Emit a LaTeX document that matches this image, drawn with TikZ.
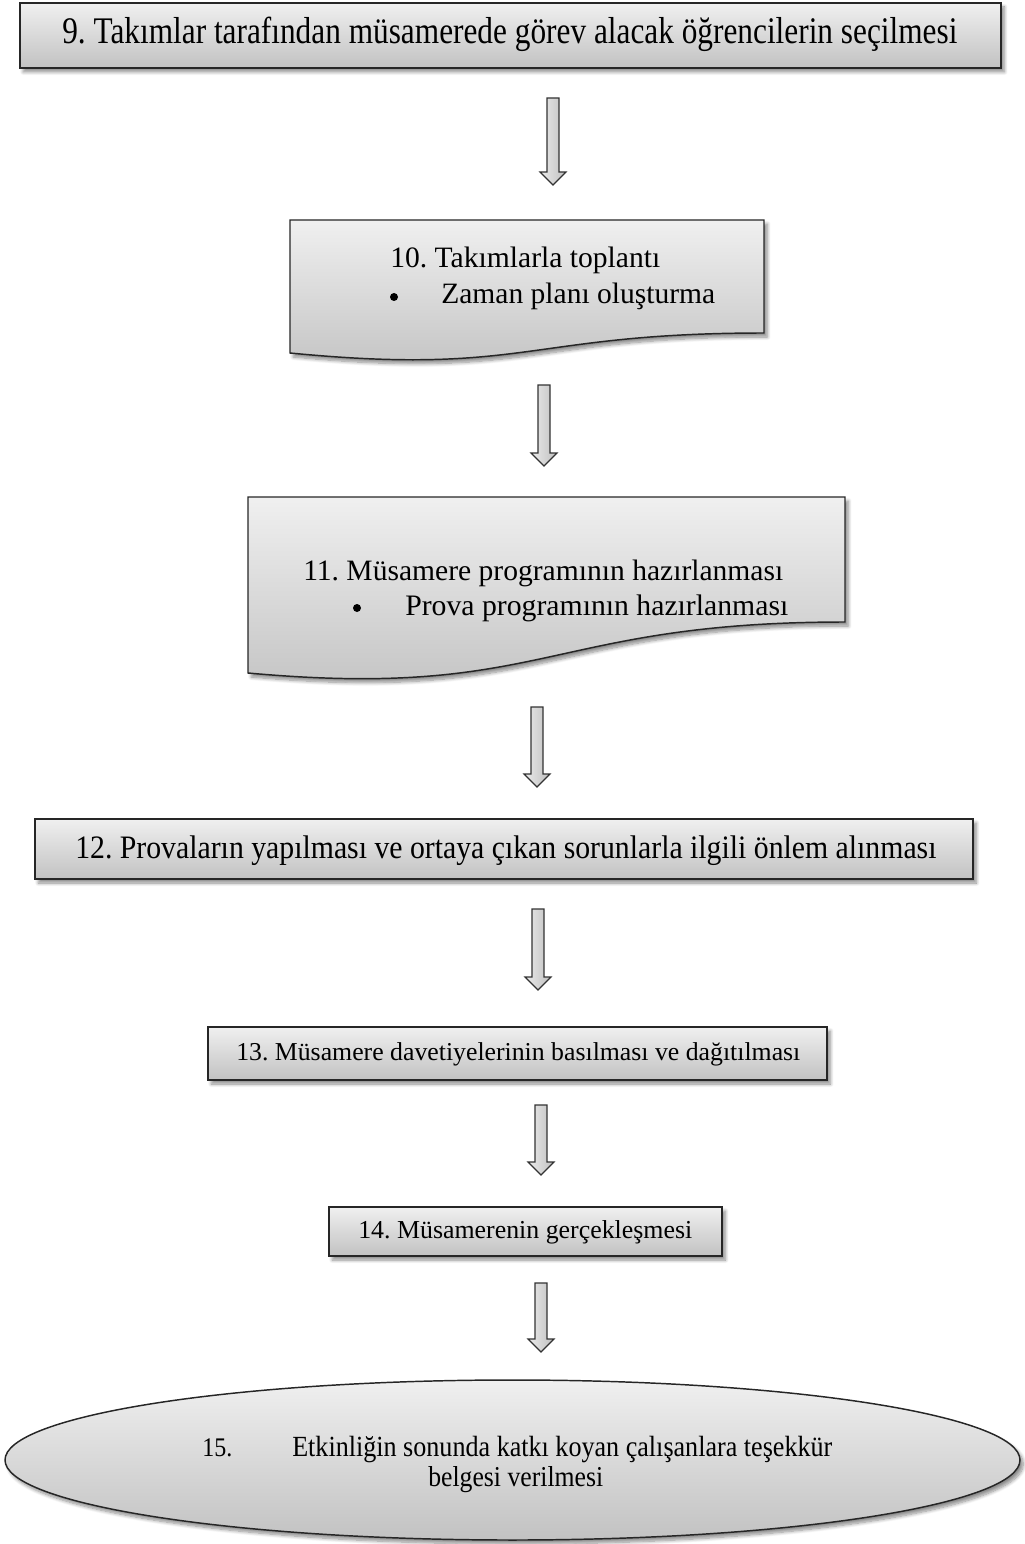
\documentclass[tikz,border=0pt]{standalone}
\usepackage{fontspec}
\setmainfont{Liberation Serif}
\usepackage{graphicx}
\usetikzlibrary{shadows.blur,shapes.geometric}
\frenchspacing
\newlength\pxu
\setlength\pxu{0.75pt}
% set a line of text to a given width (in pixel units), optionally stretched vertically
\newcommand\fitto[3][1]{\scalebox{1}[#1]{\resizebox{#2\pxu}{!}{#3}}}
\tikzset{
  panel/.style={draw=black!85, line width=1.1pt, top color=black!6, bottom color=black!24,
    blur shadow={shadow xshift=2.5pt, shadow yshift=-3pt, shadow blur steps=8,
      shadow blur radius=2.5pt, shadow opacity=45}},
  boxnode/.style={panel, rectangle, inner sep=0pt},
  txt/.style={inner sep=0pt, anchor=base west},
  dot/.style={circle, fill=black, inner sep=0pt, minimum size=8\pxu},
  arrowbody/.style={draw=black!80, line width=0.9pt, left color=black!8, right color=black!25, line join=miter}
}
% hollow block arrow: centre x, top y, tip y
\newcommand\blockarrow[3]{%
  \path[arrowbody] (#1-6,#2) -- (#1+6,#2) -- (#1+6,#3-13) -- (#1+13,#3-13)
    -- (#1,#3) -- (#1-13,#3-13) -- (#1-6,#3-13) -- cycle;}
\begin{document}
\begin{tikzpicture}[x=\pxu, y=-\pxu]
\useasboundingbox (0,0) rectangle (1024,1544);

% step 9
\node[boxnode, minimum width=981\pxu, minimum height=65\pxu] (b9) at (510.5,35.5) {};
\node[txt] (t9) at (62,44) {\fitto[1.2]{895}{9. Takımlar tarafından müsamerede görev alacak öğrencilerin seçilmesi}};
\blockarrow{553}{98}{185}

% step 10 (document shape)
\path[panel] (290,220) coordinate (b10nw) -- (764,220) -- (764,333)
  .. controls (527,333) and (527,376) .. (290,353) -- cycle;
\node[txt] (t10a) at (390,268) {\fitto{270}{10. Takımlarla toplantı}};
\node[dot] (d10) at (394,297) {};
\node[txt] (t10b) at (441,303) {\fitto{274}{Zaman planı oluşturma}};
\blockarrow{544}{385}{466}

% step 11 (document shape)
\path[panel] (248,497) coordinate (b11nw) -- (845,497) -- (845,622)
  .. controls (546,622) and (546,700) .. (248,673) -- cycle;
\node[txt] (t11a) at (303,580) {\fitto{480}{11. Müsamere programının hazırlanması}};
\node[dot] (d11) at (357,608) {};
\node[txt] (t11b) at (405,615) {\fitto{383}{Prova programının hazırlanması}};
\blockarrow{537}{707}{787}

% step 12
\node[boxnode, minimum width=938\pxu, minimum height=60\pxu] (b12) at (504,849) {};
\node[txt] (t12) at (75,858) {\fitto[1.1]{861}{12. Provaların yapılması ve ortaya çıkan sorunlarla ilgili önlem alınması}};
\blockarrow{538}{909}{990}

% step 13
\node[boxnode, minimum width=619\pxu, minimum height=53\pxu] (b13) at (517.5,1053.5) {};
\node[txt] (t13) at (236,1060) {\fitto{564}{13. Müsamere davetiyelerinin basılması ve dağıtılması}};
\blockarrow{541}{1105}{1175}

% step 14
\node[boxnode, minimum width=393\pxu, minimum height=49\pxu] (b14) at (525.5,1231.5) {};
\node[txt] (t14) at (358,1238) {\fitto{334}{14. Müsamerenin gerçekleşmesi}};
\blockarrow{541}{1283}{1352}

% step 15
\node[panel, ellipse, inner sep=0pt, minimum width=1015\pxu, minimum height=160\pxu] (b15) at (512.5,1460) {};
\node[txt] (t15n) at (202,1456) {\fitto[1.12]{30}{15.}};
\node[txt] (t15a) at (292,1456) {\fitto[1.12]{540}{Etkinliğin sonunda katkı koyan çalışanlara teşekkür}};
\node[txt] (t15b) at (428,1486) {\fitto[1.12]{175}{belgesi verilmesi}};
\end{tikzpicture}
\end{document}
